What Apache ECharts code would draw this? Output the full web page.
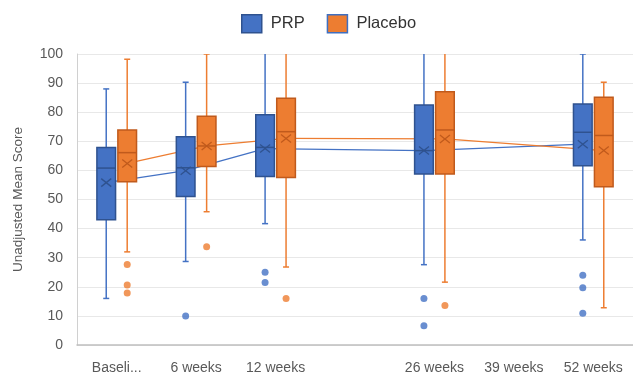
<!DOCTYPE html>
<html>
<head>
<meta charset="utf-8">
<script src="https://cdn.jsdelivr.net/npm/echarts@6/dist/echarts.min.js"></script>
<style>html,body{margin:0;padding:0;background:#fff;}#c{width:633px;height:377px;}</style>
</head>
<body>
<div id="c"></div>
<script>
// Category tick labels (one blank slot between 12 and 26 weeks)
const categories = ['Baseli...', '6 weeks', '12 weeks', '', '26 weeks', '39 weeks', '52 weeks'];

// Box stats per category: [min whisker, Q1, median, Q3, max whisker, mean]; null = no data
const prpStats = [
  [16, 43, 60.8, 67.9, 88, 55.8],
  [28.7, 51, 60.9, 71.6, 90.3, 59.9],
  [41.7, 57.9, 67.9, 79.1, 105, 67.5],
  null,
  [27.6, 58.8, 66.8, 82.5, 105, 66.8],
  null,
  [36.1, 61.6, 73.1, 82.8, 100, 69]
];
const placeboStats = [
  [32, 56.1, 66.1, 73.9, 98.2, 62.4],
  [45.8, 61.3, 68.4, 78.6, 100, 68.4],
  [26.8, 57.6, 73.3, 84.8, 105, 71],
  null,
  [21.6, 58.8, 73.9, 87, 105, 70.8],
  null,
  [12.8, 54.4, 72, 85.1, 90.3, 66.8]
];

// Outliers: [category index, value]
const prpOutliers = [[1, 10], [2, 25], [2, 21.5], [4, 16], [4, 6.6], [6, 24], [6, 19.7], [6, 10.9]];
const placeboOutliers = [[0, 27.7], [0, 20.6], [0, 17.9], [1, 33.8], [2, 16], [4, 13.6]];

const BLUE = '#4472C4', BLUE_D = '#2F528F';
const ORANGE = '#ED7D31', ORANGE_D = '#C05A1C';
const OFF_RATIO = 0.132, BOX_RATIO = 0.235;

function boxData(stats) {
  const out = [];
  stats.forEach((s, i) => { if (s) out.push([i].concat(s)); });
  return out;
}
function meanSegData(stats) {
  const out = [];
  let prev = null;
  stats.forEach((s, i) => {
    if (!s) return;
    if (prev) out.push([i, s[5], prev[0], prev[1]]);
    prev = [i, s[5]];
  });
  return out;
}

function boxRenderer(side, fill, dark, whisk) {
  return function (params, api) {
    const ci = api.value(0);
    const band = api.size([1, 0])[0];
    const cx = api.coord([ci, 0])[0] + side * band * OFF_RATIO;
    const bw = band * BOX_RATIO;
    const y = v => api.coord([ci, v])[1];
    const yMin = y(api.value(1)), yQ1 = y(api.value(2)), yMed = y(api.value(3)),
          yQ3 = y(api.value(4)), yMax = y(api.value(5)), yMean = y(api.value(6));
    const cap = 3, xs = 5, ys = 4;
    const ls = { stroke: whisk, lineWidth: 1.5 };
    return {
      type: 'group',
      children: [
        { type: 'line', shape: { x1: cx, y1: yMax, x2: cx, y2: yQ3 }, style: ls },
        { type: 'line', shape: { x1: cx, y1: yQ1, x2: cx, y2: yMin }, style: ls },
        { type: 'line', shape: { x1: cx - cap, y1: yMax, x2: cx + cap, y2: yMax }, style: ls },
        { type: 'line', shape: { x1: cx - cap, y1: yMin, x2: cx + cap, y2: yMin }, style: ls },
        { type: 'rect', shape: { x: cx - bw / 2, y: yQ3, width: bw, height: yQ1 - yQ3 },
          style: { fill: fill, stroke: dark, lineWidth: 1.5 } },
        { type: 'line', shape: { x1: cx - bw / 2, y1: yMed, x2: cx + bw / 2, y2: yMed },
          style: { stroke: dark, lineWidth: 1.5 } },
        { type: 'line', shape: { x1: cx - xs, y1: yMean - ys, x2: cx + xs, y2: yMean + ys },
          style: { stroke: dark, lineWidth: 1.3 } },
        { type: 'line', shape: { x1: cx - xs, y1: yMean + ys, x2: cx + xs, y2: yMean - ys },
          style: { stroke: dark, lineWidth: 1.3 } }
      ]
    };
  };
}
function segRenderer(side, color) {
  return function (params, api) {
    const band = api.size([1, 0])[0];
    const o = side * band * OFF_RATIO;
    const p1 = api.coord([api.value(2), api.value(3)]);
    const p2 = api.coord([api.value(0), api.value(1)]);
    return { type: 'line', shape: { x1: p1[0] + o, y1: p1[1], x2: p2[0] + o, y2: p2[1] },
             style: { stroke: color, lineWidth: 1.3 } };
  };
}

const chart = echarts.init(document.getElementById('c'), null, { renderer: 'canvas' });
const FONT = 'Liberation Sans';
chart.setOption({
  animation: false,
  textStyle: { fontFamily: FONT },
  legend: {
    left: 236, top: 9, itemWidth: 20, itemHeight: 18, itemGap: 22,
    textStyle: { fontSize: 16.5, color: '#333333', padding: [0, 0, 0, 4], fontFamily: FONT },
    data: [
      { name: 'PRP', icon: 'rect', itemStyle: { color: BLUE, borderColor: BLUE_D, borderWidth: 1.5 } },
      { name: 'Placebo', icon: 'rect', itemStyle: { color: ORANGE, borderColor: '#3F6FC0', borderWidth: 1.5 } }
    ]
  },
  grid: { left: 77, right: 0, top: 54, bottom: 32 },
  xAxis: {
    type: 'category', data: categories, boundaryGap: true,
    axisTick: { show: false },
    axisLine: { lineStyle: { color: '#BFBFBF', width: 1.5 } },
    axisLabel: { color: '#595959', fontSize: 14, margin: 16, interval: 0, fontFamily: FONT }
  },
  yAxis: {
    type: 'value', min: 0, max: 100, interval: 10,
    name: 'Unadjusted Mean Score', nameLocation: 'middle', nameGap: 52,
    nameTextStyle: { color: '#595959', fontSize: 13.5, fontFamily: FONT },
    axisLine: { show: true, lineStyle: { color: '#D0D0D0' } },
    axisTick: { show: false },
    axisLabel: { color: '#595959', fontSize: 14, margin: 14, fontFamily: FONT },
    splitLine: { lineStyle: { color: '#E8E8E8' } }
  },
  series: [
    { name: 'PRP', type: 'custom', z: 1, clip: true, data: meanSegData(prpStats), renderItem: segRenderer(-1, BLUE) },
    { name: 'Placebo', type: 'custom', z: 1, clip: true, data: meanSegData(placeboStats), renderItem: segRenderer(1, ORANGE) },
    { name: 'PRP', type: 'custom', z: 2, clip: true, data: boxData(prpStats), renderItem: boxRenderer(-1, BLUE, BLUE_D, BLUE) },
    { name: 'Placebo', type: 'custom', z: 2, clip: true, data: boxData(placeboStats), renderItem: boxRenderer(1, ORANGE, ORANGE_D, ORANGE) },
    { name: 'PRP', type: 'scatter', z: 3, data: prpOutliers, symbol: 'circle', symbolSize: 7,
      symbolOffset: [-10.5, 0], itemStyle: { color: BLUE } },
    { name: 'Placebo', type: 'scatter', z: 3, data: placeboOutliers, symbol: 'circle', symbolSize: 7,
      symbolOffset: [10.5, 0], itemStyle: { color: ORANGE } }
  ]
});
</script>
</body>
</html>
